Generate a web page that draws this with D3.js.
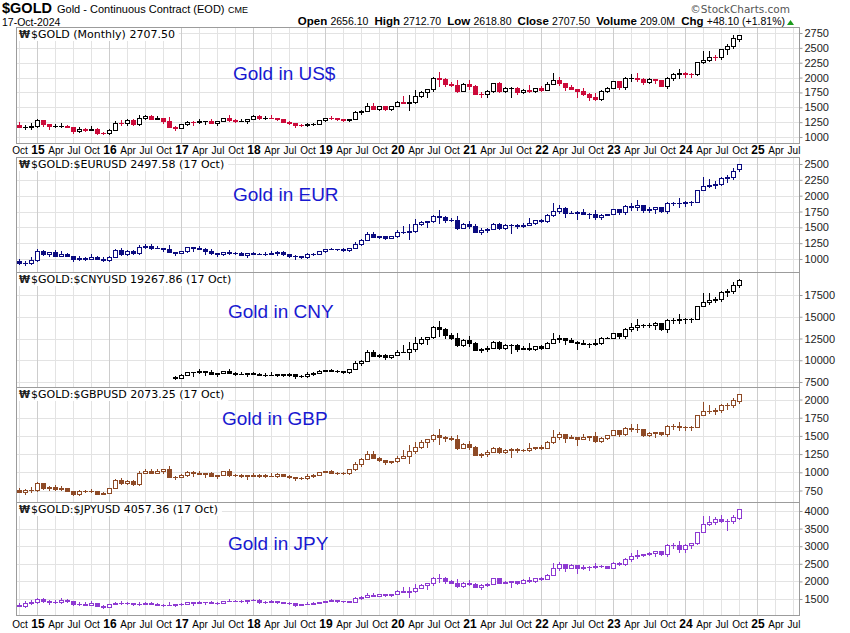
<!DOCTYPE html>
<html><head><meta charset="utf-8">
<script src="https://cdn.jsdelivr.net/npm/d3@7"></script>
<style>body{margin:0;background:#fff}svg{display:block}</style>
</head><body><svg id="c" width="850" height="633"></svg>
<script>
// ---- data (monthly candles, Oct 2014 .. Oct 2024; [open, high, low, close]) ----
const quarterLabels = ["Oct","15","Apr","Jul","Oct","16","Apr","Jul","Oct","17","Apr","Jul","Oct","18","Apr","Jul","Oct","19","Apr","Jul","Oct","20","Apr","Jul","Oct","21","Apr","Jul","Oct","22","Apr","Jul","Oct","23","Apr","Jul","Oct","24","Apr","Jul","Oct","25","Apr","Jul"];
const usdTicks = [1000,1250,1500,1750,2000,2250,2500,2750];
const eurTicks = [1000,1250,1500,1750,2000,2250,2500];
const cnyTicks = [7500,10000,12500,15000,17500];
const gbpTicks = [750,1000,1250,1500,1750,2000];
const jpyTicks = [1500,2000,2500,3000,3500,4000];

const usdOHLC = [[1210,1255,1160,1171],[1171,1205,1130,1175],[1175,1240,1142,1184],[1184,1307,1167,1279],[1279,1294,1190,1213],[1213,1224,1142,1183],[1183,1224,1170,1183],[1183,1232,1170,1190],[1190,1205,1162,1172],[1172,1175,1072,1095],[1095,1170,1080,1132],[1132,1157,1098,1115],[1115,1191,1112,1142],[1142,1146,1052,1064],[1064,1088,1046,1061],[1061,1127,1058,1116],[1116,1263,1111,1238],[1238,1287,1208,1235],[1235,1303,1206,1291],[1291,1306,1200,1214],[1214,1362,1200,1321],[1321,1377,1310,1351],[1351,1375,1300,1309],[1309,1352,1305,1316],[1316,1326,1241,1274],[1274,1337,1171,1173],[1173,1183,1123,1152],[1152,1221,1146,1212],[1212,1264,1200,1252],[1252,1264,1195,1249],[1249,1297,1242,1268],[1268,1275,1214,1268],[1268,1297,1236,1242],[1242,1274,1205,1269],[1269,1325,1264,1322],[1322,1362,1277,1284],[1284,1306,1260,1271],[1271,1299,1264,1275],[1275,1309,1236,1309],[1309,1366,1303,1345],[1345,1362,1307,1318],[1318,1356,1303,1327],[1327,1369,1313,1316],[1316,1325,1282,1305],[1305,1308,1246,1253],[1253,1267,1211,1233],[1233,1237,1160,1206],[1206,1214,1180,1196],[1196,1243,1182,1215],[1215,1237,1196,1223],[1223,1286,1222,1282],[1282,1326,1277,1325],[1325,1349,1310,1316],[1316,1322,1281,1298],[1298,1311,1267,1285],[1285,1311,1268,1311],[1311,1442,1309,1413],[1413,1453,1385,1437],[1437,1566,1437,1529],[1529,1566,1465,1472],[1472,1526,1459,1514],[1514,1519,1446,1473],[1473,1525,1458,1523],[1523,1611,1517,1587],[1587,1692,1564,1566],[1566,1704,1450,1596],[1596,1788,1568,1694],[1694,1775,1680,1751],[1751,1800,1668,1800],[1800,2005,1770,1986],[1986,2089,1863,1978],[1978,2000,1851,1896],[1896,1933,1860,1880],[1880,1966,1765,1781],[1781,1911,1777,1895],[1895,1963,1803,1850],[1850,1877,1717,1729],[1729,1757,1673,1716],[1716,1798,1681,1768],[1768,1917,1765,1905],[1905,1919,1750,1771],[1771,1835,1751,1817],[1817,1833,1677,1818],[1818,1834,1721,1757],[1757,1814,1746,1784],[1784,1877,1759,1774],[1774,1830,1753,1829],[1829,1854,1780,1796],[1796,1919,1785,1900],[1900,2078,1890,1954],[1954,2003,1873,1911],[1911,1912,1786,1848],[1848,1879,1805,1807],[1807,1814,1681,1782],[1782,1824,1715,1726],[1726,1735,1622,1672],[1672,1735,1617,1640],[1640,1786,1618,1768],[1768,1833,1765,1826],[1826,1950,1826,1942],[1942,1950,1809,1836],[1836,2003,1813,1986],[1986,2063,1950,1999],[1999,2085,1937,1982],[1982,1985,1900,1929],[1929,2000,1903,1970],[1970,1980,1904,1966],[1966,1967,1850,1866],[1866,2010,1822,1994],[1994,2077,1951,2057],[2057,2152,1998,2072],[2072,2089,2006,2058],[2058,2072,2002,2054],[2054,2256,2048,2254],[2254,2448,2250,2303],[2303,2454,2277,2345],[2345,2388,2295,2339],[2339,2483,2318,2473],[2473,2570,2403,2536],[2536,2708,2493,2659],[2656,2713,2619,2708]];

const eurOHLC = [[968,1004,926,935],[935,968,902,944],[944,1024,917,978],[978,1158,963,1133],[1133,1146,1062,1083],[1083,1113,1045,1103],[1103,1140,1042,1054],[1054,1121,1042,1083],[1083,1096,1042,1051],[1051,1054,976,997],[997,1044,984,1010],[1010,1032,982,997],[997,1083,994,1038],[1038,1042,996,1007],[1007,1029,963,977],[977,1040,974,1030],[1030,1161,1025,1138],[1138,1181,1061,1085],[1085,1137,1060,1127],[1127,1140,1078,1091],[1091,1227,1078,1190],[1190,1232,1180,1209],[1209,1230,1165,1173],[1173,1205,1167,1171],[1171,1180,1130,1160],[1160,1219,1106,1108],[1108,1118,1068,1095],[1095,1130,1089,1122],[1122,1194,1111,1183],[1183,1194,1122,1173],[1173,1200,1157,1163],[1163,1169,1080,1128],[1128,1153,1083,1088],[1088,1092,1041,1072],[1072,1113,1068,1110],[1110,1144,1081,1087],[1087,1111,1078,1092],[1092,1112,1065,1071],[1071,1091,1038,1091],[1091,1108,1079,1084],[1084,1098,1072,1081],[1081,1105,1065,1077],[1077,1124,1075,1089],[1089,1124,1069,1116],[1116,1119,1067,1073],[1073,1085,1036,1055],[1055,1058,1000,1040],[1040,1047,1017,1031],[1031,1099,1019,1074],[1074,1093,1057,1081],[1081,1122,1080,1119],[1119,1158,1115,1157],[1157,1178,1152,1157],[1157,1162,1142,1157],[1157,1169,1130,1146],[1146,1174,1131,1174],[1174,1269,1172,1243],[1243,1311,1218,1297],[1297,1427,1297,1393],[1393,1427,1344,1350],[1350,1369,1338,1358],[1358,1363,1312,1337],[1337,1361,1324,1359],[1359,1453,1354,1431],[1431,1526,1418,1420],[1420,1545,1315,1447],[1447,1633,1421,1547],[1547,1599,1534,1577],[1577,1603,1503,1603],[1603,1702,1578,1686],[1686,1772,1561,1657],[1657,1676,1580,1618],[1618,1650,1597,1614],[1614,1686,1480,1493],[1493,1564,1490,1551],[1551,1607,1486,1525],[1525,1547,1421,1431],[1431,1487,1394,1463],[1463,1496,1434,1471],[1471,1568,1469,1558],[1558,1570,1475,1493],[1493,1546,1476,1531],[1531,1552,1413,1539],[1539,1553,1486,1517],[1517,1569,1507,1543],[1543,1646,1530,1564],[1564,1610,1546,1609],[1609,1631,1584,1598],[1598,1710,1588,1693],[1693,1877,1684,1765],[1765,1859,1729,1813],[1813,1814,1664,1722],[1722,1754,1720,1724],[1724,1751,1625,1744],[1744,1786,1706,1717],[1717,1726,1655,1706],[1706,1770,1637,1660],[1660,1715,1639,1698],[1698,1714,1695,1707],[1707,1795,1707,1788],[1788,1796,1709,1735],[1735,1848,1714,1832],[1832,1890,1781,1814],[1814,1934,1772,1854],[1854,1857,1741,1768],[1768,1818,1744,1791],[1791,1823,1734,1814],[1814,1815,1750,1765],[1765,1901,1723,1886],[1886,1907,1846,1889],[1889,1961,1824,1877],[1877,1918,1829,1902],[1902,1915,1852,1900],[1900,2091,1894,2089],[2089,2294,2085,2158],[2158,2261,2134,2161],[2161,2224,2120,2184],[2184,2292,2165,2283],[2283,2326,2220,2295],[2295,2431,2256,2387],[2420,2503,2390,2498]];

// CNY series starts Dec 2016 (month index 26)
const cnyStart = 26;
const cnyOHLC = [[8129,8198,7800,8001],[8001,8401,7960,8339],[8339,8683,8257,8601],[8601,8687,8229,8604],[8604,8944,8556,8744],[8744,8792,8266,8634],[8634,8831,8377,8418],[8418,8568,8169,8534],[8534,8740,8501,8720],[8720,8986,8497,8544],[8544,8690,8359,8432],[8432,8593,8386,8434],[8434,8518,8180,8518],[8518,8650,8423,8461],[8461,8569,8272,8342],[8342,8524,8238,8332],[8332,8602,8313,8336],[8336,8424,8189,8366],[8366,8386,8246,8292],[8292,8503,8142,8408],[8408,8435,7919,8233],[8233,8288,8104,8214],[8214,8668,8116,8473],[8473,8602,8341,8505],[8505,8844,8498,8816],[8816,8885,8782,8878],[8878,9039,8764,8804],[8804,8844,8598,8712],[8712,8800,8536,8657],[8657,9050,8540,9050],[9050,9901,9036,9702],[9702,10005,9509,9895],[9895,11203,9895,10938],[10938,11202,10460,10510],[10510,10738,10419,10654],[10654,10689,10165,10355],[10355,10620,10251,10606],[10606,11162,10564,10996],[10996,11730,10935,10949],[10949,12065,10128,11300],[11300,12632,11102,11968],[11968,12657,11868,12486],[12486,12726,11899,12726],[12726,13987,12517,13854],[13854,14559,12756,13543],[13543,13692,12568,12874],[12874,13122,12460,12594],[12594,13160,11607,11712],[11712,12469,11686,12365],[12365,12805,11656,11960],[11960,12135,11124,11202],[11202,11458,10919,11274],[11274,11637,11047,11443],[11443,12213,11424,12137],[12137,12227,11305,11441],[11441,11856,11312,11740],[11740,11850,10835,11753],[11753,11856,11094,11326],[11326,11608,11256,11416],[11416,12009,11210,11306],[11306,11629,11173,11623],[11623,11782,11324,11426],[11426,12109,11357,11989],[11989,13181,11926,12394],[12394,12930,12143,12607],[12607,12614,11912,12326],[12326,12534,12096,12109],[12109,12156,11337,12018],[12018,12308,11826,11902],[11902,11966,11540,11896],[11896,12430,11728,11970],[11970,12677,11814,12549],[12549,12646,12528,12598],[12598,13153,12598,13099],[13099,13154,12546,12733],[12733,13757,12575,13640],[13640,14261,13391,13819],[13819,14708,13499,14096],[14096,14118,13787,13997],[13997,14298,13811,14084],[14084,14350,13634,14277],[14277,14284,13497,13614],[13614,14707,13292,14590],[14590,14824,14283,14681],[14681,15279,14262,14711],[14711,14896,14338,14774],[14774,14880,14400,14779],[14779,16292,14736,16278],[16278,17731,16249,16681],[16681,17771,16493,16982],[16982,17310,16662,16998],[16998,17932,16846,17860],[17860,18226,17364,17985],[17985,19005,17683,18661],[18645,19309,18382,19273]];

const gbpOHLC = [[752,780,725,732],[732,770,706,751],[751,796,730,760],[760,868,749,849],[849,859,771,786],[786,805,758,798],[798,825,763,771],[771,806,762,779],[779,789,740,746],[746,748,686,701],[701,762,691,737],[737,754,726,737],[737,772,735,740],[740,743,699,707],[707,736,697,720],[720,791,718,783],[783,907,779,889],[889,923,840,859],[859,891,839,883],[883,893,828,838],[838,1023,827,992],[992,1041,984,1021],[1021,1039,990,997],[997,1043,994,1015],[1015,1049,988,1041],[1041,1091,938,940],[940,948,911,934],[934,970,929,963],[963,1019,953,1009],[1009,1019,952,995],[995,1017,974,979],[979,989,937,984],[984,1006,948,953],[953,965,925,961],[961,1024,957,1022],[1022,1052,953,958],[958,975,949,957],[957,975,938,943],[943,969,914,969],[969,984,944,948],[948,970,940,958],[958,979,936,947],[947,986,945,956],[956,988,939,981],[981,983,944,949],[949,960,922,939],[939,942,893,928],[928,934,906,918],[918,973,907,951],[951,970,936,959],[959,1008,958,1005],[1005,1012,1001,1011],[1011,1029,987,992],[992,1001,979,996],[996,1006,971,985],[985,1039,972,1039],[1039,1136,1037,1113],[1113,1195,1090,1182],[1182,1286,1182,1256],[1256,1286,1191,1197],[1197,1206,1160,1170],[1170,1174,1118,1139],[1139,1151,1128,1149],[1149,1220,1144,1202],[1202,1304,1200,1222],[1222,1373,1129,1286],[1286,1420,1264,1345],[1345,1437,1334,1418],[1418,1452,1351,1452],[1452,1532,1429,1517],[1517,1594,1393,1479],[1479,1496,1432,1467],[1467,1496,1437,1452],[1452,1516,1323,1335],[1335,1398,1332,1386],[1386,1436,1315,1349],[1349,1368,1232,1241],[1241,1265,1210,1245],[1245,1302,1220,1280],[1280,1348,1278,1340],[1340,1350,1266,1281],[1281,1320,1267,1307],[1307,1333,1205,1322],[1322,1334,1277,1304],[1304,1326,1296,1304],[1304,1404,1293,1334],[1334,1353,1318,1352],[1352,1371,1323,1335],[1335,1431,1327,1417],[1417,1582,1409,1488],[1488,1559,1458,1520],[1520,1521,1418,1467],[1467,1510,1465,1485],[1485,1491,1380,1463],[1463,1521,1454,1485],[1485,1505,1440,1497],[1497,1552,1410,1430],[1430,1481,1412,1466],[1466,1515,1464,1509],[1509,1581,1509,1575],[1575,1582,1504,1526],[1526,1623,1507,1609],[1609,1660,1561,1590],[1590,1662,1554,1593],[1593,1595,1495,1518],[1518,1556,1498,1533],[1533,1560,1484,1552],[1552,1553,1517,1530],[1530,1654,1494,1641],[1641,1657,1596,1630],[1630,1693,1582,1628],[1628,1641,1579,1620],[1620,1637,1579,1626],[1626,1788,1621,1786],[1786,1960,1783,1844],[1844,1930,1821,1841],[1841,1884,1806,1850],[1850,1933,1834,1925],[1925,1957,1872,1931],[1931,2026,1899,1989],[1985,2077,1957,2073]];

const jpyOHLC = [[1326,1376,1303,1315],[1315,1430,1266,1394],[1394,1485,1354,1418],[1418,1536,1398,1503],[1503,1521,1423,1451],[1451,1464,1372,1421],[1421,1470,1396,1412],[1412,1529,1396,1477],[1477,1495,1424,1436],[1436,1440,1329,1358],[1358,1418,1340,1372],[1372,1402,1317,1337],[1337,1436,1333,1377],[1377,1382,1295,1310],[1310,1339,1257,1275],[1275,1363,1271,1350],[1350,1423,1344,1395],[1395,1450,1361,1391],[1391,1404,1344,1375],[1375,1392,1329,1344],[1344,1405,1330,1363],[1363,1406,1352,1379],[1379,1404,1345,1354],[1354,1390,1329,1333],[1333,1345,1298,1335],[1335,1415,1333,1343],[1343,1360,1309,1348],[1348,1377,1341,1367],[1367,1426,1353,1412],[1412,1425,1331,1391],[1391,1446,1383,1414],[1414,1422,1345,1405],[1405,1438,1389,1396],[1396,1406,1355,1400],[1400,1457,1394,1454],[1454,1499,1437,1445],[1445,1470,1432,1445],[1445,1472,1426,1434],[1434,1475,1390,1475],[1475,1498,1462,1469],[1469,1487,1394,1406],[1406,1442,1390,1411],[1411,1484,1408,1438],[1438,1448,1395,1420],[1420,1423,1379,1387],[1387,1403,1355,1380],[1380,1384,1288,1339],[1339,1369,1321,1360],[1360,1404,1344,1372],[1372,1404,1350,1388],[1388,1410,1387,1406],[1406,1444,1401,1443],[1443,1493,1436,1466],[1466,1473,1420,1439],[1439,1453,1411,1431],[1431,1431,1402,1420],[1420,1556,1418,1525],[1525,1579,1495,1562],[1562,1664,1562,1625],[1625,1665,1583,1591],[1591,1648,1577,1635],[1635,1640,1583,1613],[1613,1656,1597,1654],[1654,1746,1647,1720],[1720,1833,1688,1690],[1690,1832,1565,1716],[1716,1917,1686,1816],[1816,1914,1801,1888],[1888,1942,1798,1942],[1942,2121,1910,2101],[2101,2210,1973,2095],[2095,2118,1953,2000],[2000,2039,1947,1968],[1968,2058,1841,1858],[1858,1973,1854,1956],[1956,2027,1888,1937],[1937,1966,1830,1843],[1843,1931,1795,1900],[1900,1965,1862,1932],[1932,2101,1929,2088],[2088,2104,1945,1968],[1968,2013,1946,1993],[1993,2017,1839,2000],[2000,2018,1916,1956],[1956,2066,1943,2032],[2032,2137,1991,2008],[2008,2106,1984,2105],[2105,2134,2049,2067],[2067,2207,2054,2185],[2185,2529,2173,2378],[2378,2546,2329,2482],[2482,2483,2298,2378],[2378,2494,2375,2452],[2452,2461,2240,2375],[2375,2455,2360,2397],[2397,2432,2325,2419],[2419,2533,2385,2439],[2439,2467,2409,2442],[2442,2451,2390,2394],[2394,2537,2394,2527],[2527,2538,2464,2501],[2501,2660,2470,2637],[2637,2812,2588,2725],[2725,2881,2662,2761],[2761,2788,2719,2784],[2784,2846,2747,2803],[2803,2876,2713,2861],[2861,2862,2764,2788],[2788,3049,2721,3025],[3025,3078,2961,3048],[3048,3161,2839,2922],[2922,3050,2846,3025],[3025,3102,2947,3081],[3081,3413,3072,3410],[3410,3863,3404,3634],[3634,3860,3593,3689],[3689,3832,3618,3763],[3763,3880,3678,3710],[3710,3760,3450,3708],[3708,3888,3646,3818],[3811,4065,3780,4059]];

// ---- layout ----
const svg = d3.select("#c");
const FONT = "'Liberation Sans', Arial, sans-serif";
const X0 = 16, X1 = 800;
const x = d3.scaleLinear().domain([0, 120]).range([19, 739]);
const quarterIdx = d3.range(0, 130, 3);

const panels = [
  {data: usdOHLC, start: 0, ticks: usdTicks, dom: [1000, 2750], rng: [137, 33], top: 27, bottom: 143, color: null,
   label: "$GOLD (Monthly) 2707.50", note: "Gold in US$", nx: 233, ny: 80},
  {data: eurOHLC, start: 0, ticks: eurTicks, dom: [1000, 2500], rng: [259, 164], top: 157, bottom: 272, color: "#0b0b80",
   label: "$GOLD:$EURUSD 2497.58 (17 Oct)", note: "Gold in EUR", nx: 233, ny: 201},
  {data: cnyOHLC, start: cnyStart, ticks: cnyTicks, dom: [7500, 17500], rng: [382, 295], top: 272, bottom: 387, color: "#000000",
   label: "$GOLD:$CNYUSD 19267.86 (17 Oct)", note: "Gold in CNY", nx: 228, ny: 318},
  {data: gbpOHLC, start: 0, ticks: gbpTicks, dom: [750, 2000], rng: [490.5, 399.5], top: 387, bottom: 502, color: "#8e4a26",
   label: "$GOLD:$GBPUSD 2073.25 (17 Oct)", note: "Gold in GBP", nx: 222, ny: 425},
  {data: jpyOHLC, start: 0, ticks: jpyTicks, dom: [1500, 4000], rng: [599, 511], top: 502, bottom: 615, color: "#8e3ad2",
   label: "$GOLD:$JPYUSD 4057.36 (17 Oct)", note: "Gold in JPY", nx: 228, ny: 550}
];

// ---- header ----
svg.append("text").attr("x", 2).attr("y", 13).attr("font-family", FONT).attr("font-weight", "bold")
  .attr("font-size", 14).attr("textLength", 50).attr("lengthAdjust", "spacingAndGlyphs").attr("fill", "#000").text("$GOLD");
svg.append("text").attr("x", 57).attr("y", 13).attr("font-family", FONT).attr("font-size", 11).attr("fill", "#000")
  .text("Gold - Continuous Contract (EOD)");
svg.append("text").attr("x", 228).attr("y", 13).attr("font-family", FONT).attr("font-size", 9).attr("fill", "#000").text("CME");
svg.append("text").attr("x", 2).attr("y", 25.5).attr("font-family", FONT).attr("font-size", 10.5).attr("fill", "#000").text("17-Oct-2024");
svg.append("text").attr("x", 790).attr("y", 13).attr("text-anchor", "end").attr("font-family", "'DejaVu Sans', sans-serif")
  .attr("font-size", 10.5).attr("fill", "#555").text("\u00A9StockCharts.com");

const hdr = svg.append("text").attr("x", 785).attr("y", 24.5).attr("text-anchor", "end").attr("font-family", FONT)
  .attr("fill", "#000").attr("xml:space", "preserve");
[["Open", "2656.10"], ["High", "2712.70"], ["Low", "2618.80"], ["Close", "2707.50"], ["Volume", "209.0M"], ["Chg", "+48.10 (+1.81%)"]]
  .forEach(([k, v], i, arr) => {
    hdr.append("tspan").attr("font-weight", "bold").attr("font-size", 11.5).text((i ? " " : "") + k + " ");
    hdr.append("tspan").attr("font-size", 10.5).text(v + (i < arr.length - 1 ? " " : ""));
  });
svg.append("path").attr("d", "M787,25 L790.5,20 L794,25 Z").attr("fill", "#1a9a1a");

// ---- panels ----
panels.forEach((p, pi) => {
  const y = d3.scaleLinear().domain(p.dom).range(p.rng);
  const g = svg.append("g");
  const clipId = "clip" + pi;
  svg.append("clipPath").attr("id", clipId).append("rect")
    .attr("x", X0).attr("y", p.top).attr("width", X1 - X0).attr("height", p.bottom - p.top);
  const inner = g.append("g").attr("clip-path", `url(#${clipId})`);

  // grid
  inner.selectAll("line.h").data(p.ticks).join("line")
    .attr("x1", X0).attr("x2", X1)
    .attr("y1", d => Math.round(y(d)) + 0.5).attr("y2", d => Math.round(y(d)) + 0.5)
    .attr("stroke", "#e3e3e3").attr("stroke-width", 1);
  inner.selectAll("line.v").data(quarterIdx).join("line")
    .attr("x1", d => x(d) + 0.5).attr("x2", d => x(d) + 0.5)
    .attr("y1", p.top).attr("y2", p.bottom)
    .attr("stroke", (d, i) => quarterLabels[i].length === 2 ? "#cdcdcd" : "#e3e3e3").attr("stroke-width", 1);

  // label box
  const lab = g.append("g");
  const lbg = lab.append("rect").attr("x", X0 + 1).attr("y", p.top + 1).attr("height", 13).attr("fill", "#fff");
  lab.append("text").attr("x", 19).attr("y", p.top + 11).attr("font-family", "'DejaVu Sans', sans-serif")
    .attr("font-size", 10).attr("font-weight", "bold").attr("fill", "#222").text("\u20A9");
  const lt = lab.append("text").attr("x", 31).attr("y", p.top + 11).attr("font-family", "'DejaVu Sans', sans-serif")
    .attr("font-size", 11).attr("fill", "#000").text(p.label);
  lbg.attr("width", lt.node().getComputedTextLength() + 18);

  // candles
  const cg = inner.append("g");
  p.data.forEach((d, i) => {
    const [o, h, l, c] = d;
    const m = p.start + i;
    const cx = Math.round(x(m));
    let col = p.color;
    if (!col) {
      const prev = i > 0 ? p.data[i - 1][3] : o;
      col = c >= prev ? "#000000" : "#cc0a3a";
    }
    const top = Math.round(y(Math.max(o, c)));
    const bot = Math.round(y(Math.min(o, c)));
    cg.append("line").attr("x1", cx + 0.5).attr("x2", cx + 0.5)
      .attr("y1", Math.round(y(h))).attr("y2", Math.round(y(l)) + 1)
      .attr("stroke", col).attr("stroke-width", 1);
    if (bot - top < 2) {
      cg.append("rect").attr("x", cx - 2).attr("y", top).attr("width", 5).attr("height", Math.max(1, bot - top + 1)).attr("fill", col);
    } else if (c < o) {
      cg.append("rect").attr("x", cx - 2).attr("y", top).attr("width", 5).attr("height", bot - top + 1).attr("fill", col);
    } else {
      cg.append("rect").attr("x", cx - 1.5).attr("y", top + 0.5).attr("width", 4).attr("height", bot - top)
        .attr("fill", "#fff").attr("stroke", col).attr("stroke-width", 1);
    }
  });

  // border
  g.append("rect").attr("x", X0 + 0.5).attr("y", p.top + 0.5).attr("width", X1 - X0 - 1).attr("height", p.bottom - p.top)
    .attr("fill", "none").attr("stroke", "#9c9c9c").attr("stroke-width", 1);

  // right axis
  const ax = d3.axisRight(y).tickValues(p.ticks).tickSize(3).tickPadding(2).tickFormat(d3.format("d"));
  const axg = svg.append("g").attr("transform", `translate(${X1 - 0.5},0)`).call(ax);
  axg.select(".domain").remove();
  axg.selectAll("line").attr("stroke", "#9c9c9c");
  axg.selectAll("text").attr("font-family", FONT).attr("font-size", 11).attr("fill", "#222");

  // note
  svg.append("text").attr("x", p.nx).attr("y", p.ny).attr("font-family", FONT).attr("font-size", 19)
    .attr("fill", "#1919d0").text(p.note);
});

// ---- x axis labels ----
function xLabels(yb) {
  const gx = svg.append("g");
  quarterIdx.forEach((m, i) => {
    const s = quarterLabels[i];
    const yr = s.length === 2;
    gx.append("text").attr("x", x(m) + 1).attr("y", yb).attr("text-anchor", "middle")
      .attr("font-family", FONT).attr("font-size", yr ? 12 : 10).attr("font-weight", yr ? "bold" : "normal")
      .attr("fill", "#000").text(s);
  });
}
xLabels(153.5);
xLabels(628);
</script></body></html>
